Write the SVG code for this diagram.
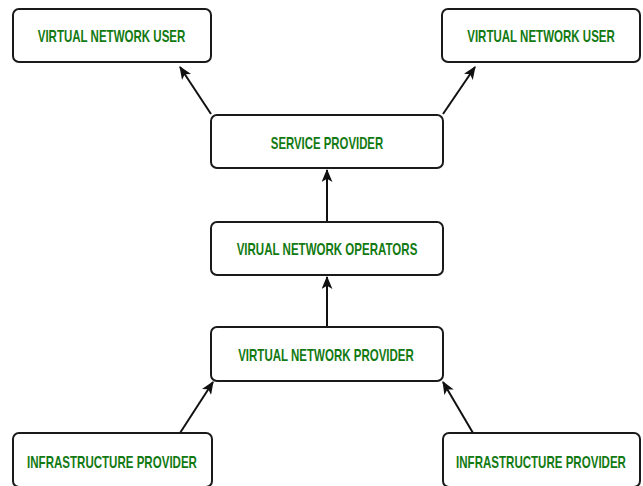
<svg xmlns="http://www.w3.org/2000/svg" width="643" height="486" viewBox="0 0 643 486">
  <style>
    .box { fill: #ffffff; stroke: #1a1a1a; stroke-width: 2; }
    .lbl { font-family: "Liberation Sans", Arial, sans-serif; font-weight: bold; font-size: 16px; fill: #137a13; text-anchor: middle; }
    .edge { stroke: #111111; stroke-width: 2; fill: none; marker-end: url(#arrow); }
  </style>
  <defs>
    <marker id="arrow" viewBox="0 0 12 10" refX="11" refY="5" markerWidth="13" markerHeight="11" markerUnits="userSpaceOnUse" orient="auto">
      <path d="M0,0 L12,5 L0,10 L3,5 Z" fill="#111111"/>
    </marker>
  </defs>
  <rect width="643" height="486" fill="#ffffff"/>

  <g id="connectors">
    <line class="edge" x1="211" y1="114" x2="180" y2="67"/>
    <line class="edge" x1="443" y1="114" x2="475" y2="67"/>
    <line class="edge" x1="327" y1="222" x2="327" y2="170"/>
    <line class="edge" x1="327" y1="327" x2="327" y2="277"/>
    <line class="edge" x1="180" y1="433" x2="213" y2="382"/>
    <line class="edge" x1="473" y1="433" x2="443" y2="382"/>
  </g>

  <!-- labels use a condensed bold face: horizontal scale of 0.72 -->
  <g id="user-left">
    <rect class="box" x="13" y="9" width="198" height="53" rx="6"/>
    <text class="lbl" transform="translate(111.5 42) scale(0.72 1)" textLength="205" lengthAdjust="spacingAndGlyphs">VIRTUAL NETWORK USER</text>
  </g>
  <g id="user-right">
    <rect class="box" x="442" y="9" width="198" height="53" rx="6"/>
    <text class="lbl" transform="translate(541 42) scale(0.72 1)" textLength="205" lengthAdjust="spacingAndGlyphs">VIRTUAL NETWORK USER</text>
  </g>
  <g id="service-provider">
    <rect class="box" x="211" y="115" width="232" height="53" rx="6"/>
    <text class="lbl" transform="translate(327 149) scale(0.72 1)" textLength="156" lengthAdjust="spacingAndGlyphs">SERVICE PROVIDER</text>
  </g>
  <g id="network-operators">
    <rect class="box" x="211" y="222" width="232" height="53" rx="6"/>
    <text class="lbl" transform="translate(327 255) scale(0.72 1)" textLength="251" lengthAdjust="spacingAndGlyphs">VIRUAL NETWORK OPERATORS</text>
  </g>
  <g id="network-provider">
    <rect class="box" x="211" y="327" width="232" height="54" rx="6"/>
    <text class="lbl" transform="translate(326 361) scale(0.72 1)" textLength="244" lengthAdjust="spacingAndGlyphs">VIRTUAL NETWORK PROVIDER</text>
  </g>
  <g id="infra-left">
    <rect class="box" x="13" y="433" width="199" height="54" rx="6"/>
    <text class="lbl" transform="translate(112 468) scale(0.72 1)" textLength="236" lengthAdjust="spacingAndGlyphs">INFRASTRUCTURE PROVIDER</text>
  </g>
  <g id="infra-right">
    <rect class="box" x="443" y="433" width="197" height="54" rx="6"/>
    <text class="lbl" transform="translate(541 468) scale(0.72 1)" textLength="236" lengthAdjust="spacingAndGlyphs">INFRASTRUCTURE PROVIDER</text>
  </g>
</svg>
